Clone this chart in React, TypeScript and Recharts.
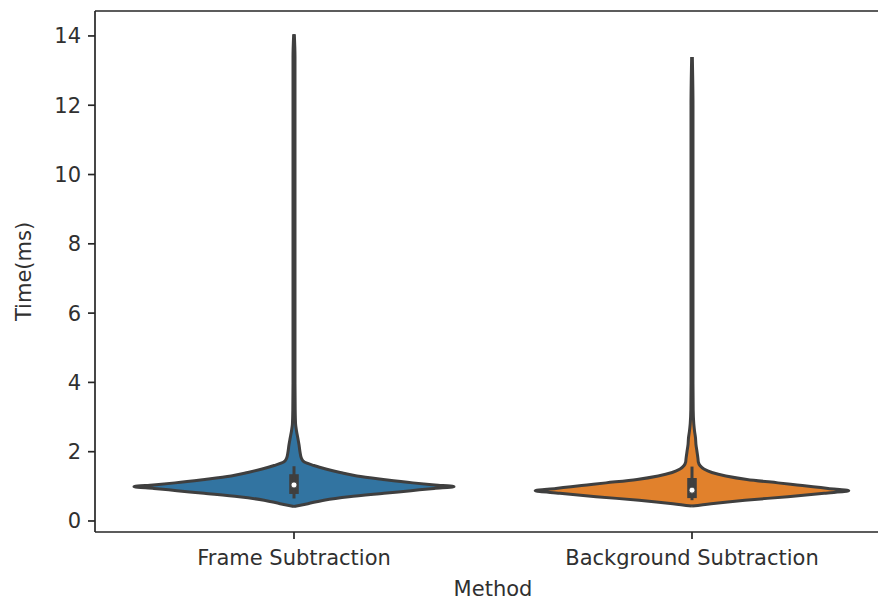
import React from 'react';
import {
  ComposedChart,
  Area,
  XAxis,
  YAxis,
  ReferenceArea,
  ReferenceLine,
  ReferenceDot,
} from 'recharts';

// ---- data ----
const CATEGORIES = ['Frame Subtraction', 'Background Subtraction'];
const Y_TICKS = [0, 2, 4, 6, 8, 10, 12, 14];

// time values (ms) at which the violin outlines were sampled
const FRAME_T = [
  0.42, 0.5, 0.6, 0.7, 0.8, 0.875, 0.94, 0.99, 1.04, 1.1, 1.2, 1.3, 1.4, 1.5, 1.6, 1.7, 1.8, 2.0,
  2.2, 2.4, 2.6, 2.8, 3.2, 4, 6, 8, 10, 12, 13.39, 14.05,
];
// violin half-widths (in category units) at those times
const FRAME_HALF_WIDTH = [
  0, 0.035, 0.075, 0.138, 0.226, 0.294, 0.352, 0.402, 0.354, 0.299, 0.224, 0.158, 0.116, 0.08,
  0.05, 0.026, 0.019, 0.015, 0.0126, 0.0095, 0.0063, 0.004, 0.003, 0.0025, 0.0025, 0.0025, 0.0025,
  0.0025, 0.0025, 0.0008,
];
const BG_T = [
  0.43, 0.5, 0.6, 0.7, 0.8, 0.875, 0.94, 0.99, 1.04, 1.1, 1.2, 1.3, 1.4, 1.5, 1.6, 1.7, 1.8, 2.0,
  2.2, 2.4, 2.6, 2.8, 3.2, 4, 6, 8, 10, 12, 13.39,
];
const BG_HALF_WIDTH = [
  0, 0.048, 0.133, 0.241, 0.332, 0.394, 0.342, 0.304, 0.264, 0.216, 0.138, 0.085, 0.05, 0.03,
  0.02, 0.016, 0.015, 0.0126, 0.01, 0.0088, 0.0063, 0.0045, 0.003, 0.0025, 0.0025, 0.0025, 0.0025,
  0.0025, 0.0008,
];

// inner box statistics per category: [whiskerLow, q1, median, q3, whiskerHigh]
const FRAME_BOX = [0.65, 0.78, 1.04, 1.35, 1.58];
const BG_BOX = [0.6, 0.66, 0.89, 1.24, 1.57];

// ---- styling ----
const BLUE = '#3274a1';
const ORANGE = '#e1812c';
const GRAY = '#3f3f3f';
const INK = '#262626';
const TEXT = '#303030';
const FONT = 'DejaVu Sans';

const Y_MIN = -0.318;
const Y_MAX = 14.72;
const BOX_HW = 0.012;

const frameRows = FRAME_T.map((t, i) => ({
  t,
  v: [0 - FRAME_HALF_WIDTH[i], 0 + FRAME_HALF_WIDTH[i]],
}));
const bgRows = BG_T.map((t, i) => ({
  t,
  v: [1 - BG_HALF_WIDTH[i], 1 + BG_HALF_WIDTH[i]],
}));

const tickStyle = { fill: TEXT, fontSize: 21, fontFamily: FONT };

export default function App() {
  const boxes = [
    { c: 0, s: FRAME_BOX },
    { c: 1, s: BG_BOX },
  ];
  return (
    <div
      style={{
        position: 'absolute',
        left: 0,
        top: 0,
        width: 878,
        height: 602,
        overflow: 'hidden',
        background: '#fff',
      }}
    >
      <ComposedChart
        width={900}
        height={602}
        layout="vertical"
        margin={{ top: 11, right: 9, bottom: 0, left: 0 }}
      >
        <XAxis
          type="number"
          domain={[-0.5, 1.5]}
          allowDataOverflow
          ticks={[0, 1]}
          interval={0}
          tickFormatter={(v: number) => CATEGORIES[v] ?? ''}
          height={70}
          tickSize={7}
          tickMargin={11}
          tick={tickStyle}
          axisLine={{ stroke: INK, strokeWidth: 1.7 }}
          tickLine={{ stroke: INK, strokeWidth: 1.7 }}
          label={{
            value: 'Method',
            position: 'insideBottom',
            offset: 6,
            style: { fill: TEXT, fontSize: 21, fontFamily: FONT },
          }}
        />
        <YAxis
          type="number"
          dataKey="t"
          reversed
          domain={[Y_MIN, Y_MAX]}
          allowDataOverflow
          ticks={Y_TICKS}
          interval={0}
          width={95}
          tickSize={7}
          tickMargin={7}
          tick={tickStyle}
          axisLine={{ stroke: INK, strokeWidth: 1.7 }}
          tickLine={{ stroke: INK, strokeWidth: 1.7 }}
          label={{
            value: 'Time(ms)',
            angle: -90,
            position: 'insideLeft',
            offset: 24,
            style: { fill: TEXT, fontSize: 21, fontFamily: FONT, textAnchor: 'middle' },
          }}
        />
        <ReferenceLine y={Y_MAX} stroke={INK} strokeWidth={1.7} ifOverflow="visible" />
        <ReferenceLine x={1.5} stroke={INK} strokeWidth={1.7} ifOverflow="visible" />
        <Area
          data={frameRows}
          dataKey="v"
          type="monotone"
          fill={BLUE}
          fillOpacity={1}
          stroke={GRAY}
          strokeWidth={3}
          isAnimationActive={false}
          activeDot={false}
          dot={false}
        />
        <Area
          data={bgRows}
          dataKey="v"
          type="monotone"
          fill={ORANGE}
          fillOpacity={1}
          stroke={GRAY}
          strokeWidth={3}
          isAnimationActive={false}
          activeDot={false}
          dot={false}
        />
        {boxes.map(({ c, s }) => (
          <ReferenceLine
            key={'w' + c}
            segment={[
              { x: c, y: s[0] },
              { x: c, y: s[4] },
            ]}
            stroke={GRAY}
            strokeWidth={3}
            ifOverflow="visible"
          />
        ))}
        {boxes.map(({ c, s }) => (
          <ReferenceArea
            key={'b' + c}
            x1={c - BOX_HW}
            x2={c + BOX_HW}
            y1={s[1]}
            y2={s[3]}
            fill={GRAY}
            fillOpacity={1}
            stroke="none"
            ifOverflow="visible"
          />
        ))}
        {boxes.map(({ c, s }) => (
          <ReferenceDot
            key={'m' + c}
            x={c}
            y={s[2]}
            r={3}
            fill="#ffffff"
            stroke={GRAY}
            strokeWidth={0.8}
            ifOverflow="visible"
          />
        ))}
      </ComposedChart>
    </div>
  );
}
